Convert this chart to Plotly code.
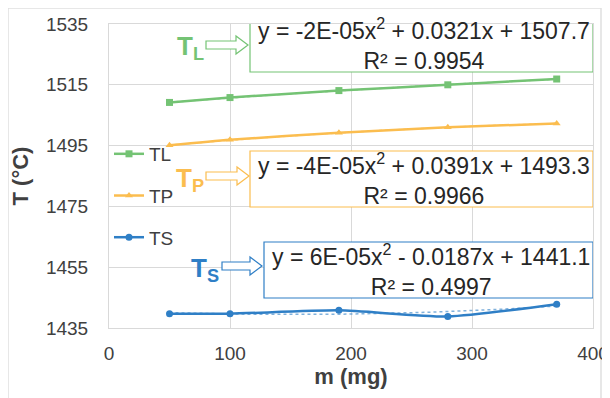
import numpy as np
import plotly.graph_objects as go

mass = [50, 100, 190, 280, 370]
TL = [1509.2, 1510.8, 1513.1, 1515.0, 1516.9]
TP = [1495.1, 1496.9, 1499.2, 1501.0, 1502.3]
TS = [1439.7, 1439.7, 1440.8, 1438.8, 1442.8]

series_names = ["TL", "TP", "TS"]
colors = {"TL": "#74c374", "TP": "#fbbd4f", "TS": "#2f7fc6"}
symbols = {"TL": "square", "TP": "triangle-up", "TS": "circle"}
eq_text = {
    "TL": "y = -2E-05x<sup>2</sup> + 0.0321x + 1507.7<br>R² = 0.9954",
    "TP": "y = -4E-05x<sup>2</sup> + 0.0391x + 1493.3<br>R² = 0.9966",
    "TS": "y = 6E-05x<sup>2</sup> - 0.0187x + 1441.1<br>R² = 0.4997",
}
sub = {"TL": "L", "TP": "P", "TS": "S"}

x_ticks = [0, 100, 200, 300, 400]
y_ticks = [1435, 1455, 1475, 1495, 1515, 1535]

# page geometry (page body has an 8px margin)
OFF = 8
W, H = 610 - OFF, 398 - OFF
PL, PR, PT, PB = 109, 593, 24, 328   # plot area in page pixels
PW, PH = PR - PL, PB - PT
ML, MT = PL - OFF, PT - OFF
MR, MB = W - ML - PW, H - MT - PH
FONT = "Liberation Sans, Arial"


def px2x(px):
    return (px - PL) / PW * 400


def py2y(py):
    return 1535 - (py - PT) / PH * 100


data = {"TL": TL, "TP": TP, "TS": TS}
fig = go.Figure()

# trendlines (polynomial order 2 fitted to data)
xs = np.linspace(min(mass), max(mass), 60)
for n in series_names:
    c = np.polyfit(mass, data[n], 2)
    fig.add_trace(go.Scatter(x=xs, y=np.polyval(c, xs), mode="lines",
                             line=dict(color=colors[n], width=1.5, dash="dot"),
                             opacity=0.6, showlegend=False, hoverinfo="skip"))

for i, n in enumerate(series_names):
    fig.add_trace(go.Scatter(x=mass, y=data[n], mode="lines+markers", name=n,
                             legendgroup=n,
                             line=dict(color=colors[n], width=2.5, shape="spline", smoothing=0.6),
                             marker=dict(symbol=symbols[n], size=7, color=colors[n])))

# boxes, arrows, labels (page pixels)
boxes = {"TL": (250, 16, 593, 72), "TP": (250, 151, 593, 207), "TS": (264, 242, 593, 298)}
arrows = {"TL": (206, 248, 45), "TP": (206, 249, 176), "TS": (222, 262, 266)}
labels = {"TL": (190, 47), "TP": (190, 179), "TS": (205, 269)}

shapes = []
annotations = []
for n in series_names:
    x0, y0, x1, y1 = boxes[n]
    shapes.append(dict(type="rect", xref="x", yref="y", x0=px2x(x0), x1=px2x(x1),
                       y0=py2y(y1), y1=py2y(y0), line=dict(color=colors[n], width=1.2),
                       fillcolor="white", layer="above"))
    a0, a1, ay = arrows[n]
    hs, hh, hl = 4, 9, 12
    pts = [(a0, ay - hs), (a1 - hl, ay - hs), (a1 - hl, ay - hh), (a1, ay),
           (a1 - hl, ay + hh), (a1 - hl, ay + hs), (a0, ay + hs)]
    path = "M " + " L ".join(f"{px2x(p[0])},{py2y(p[1])}" for p in pts) + " Z"
    shapes.append(dict(type="path", xref="x", yref="y", path=path,
                       line=dict(color=colors[n], width=1.2), fillcolor="white", layer="above"))
    annotations.append(dict(x=px2x((x0 + x1) / 2 + 2), y=py2y((y0 + y1) / 2), xref="x", yref="y",
                            text=eq_text[n], showarrow=False, align="center",
                            font=dict(size=23, color="#262626", family=FONT)))
    lx, ly = labels[n]
    annotations.append(dict(x=px2x(lx), y=py2y(ly), xref="x", yref="y",
                            text=f"<b>T<sub>{sub[n]}</sub></b>", showarrow=False,
                            font=dict(size=26, color=colors[n], family=FONT)))

# outer border of the chart area
shapes.append(dict(type="rect", xref="paper", yref="paper",
                   x0=-ML / PW, x1=(601 - PL) / PW,
                   y0=-(MB + 20) / PH, y1=1 + MT / PH,
                   line=dict(color="#e0e0e0", width=1.5), layer="below"))

fig.update_layout(
    width=W, height=H,
    margin=dict(l=ML, r=MR, t=MT, b=MB, autoexpand=False),
    paper_bgcolor="white", plot_bgcolor="white",
    font=dict(family=FONT, color="#404040", size=19),
    shapes=shapes, annotations=annotations,
    legend=dict(x=0.0, y=0.635, xanchor="left", yanchor="top", bgcolor="rgba(0,0,0,0)",
                font=dict(size=19, color="#404040"), itemwidth=30, tracegroupgap=14),
    xaxis=dict(range=[0, 400], tickvals=x_ticks, showgrid=True, gridcolor="#d9d9d9",
               showline=True, linecolor="#d9d9d9", mirror=True, zeroline=False,
               ticklabelstandoff=8, automargin=False, tickfont=dict(size=19),
               title=dict(text="<b>m (mg)</b>", standoff=4, font=dict(size=22, color="#404040"))),
    yaxis=dict(range=[1435, 1535], tickvals=y_ticks, showgrid=True, gridcolor="#d9d9d9",
               showline=True, linecolor="#d9d9d9", mirror=True, zeroline=False,
               ticklabelstandoff=16, automargin=False, tickfont=dict(size=19),
               title=dict(text="<b>T (°C)</b>", standoff=12, font=dict(size=22, color="#404040"))),
)

fig.write_html("out.html")
